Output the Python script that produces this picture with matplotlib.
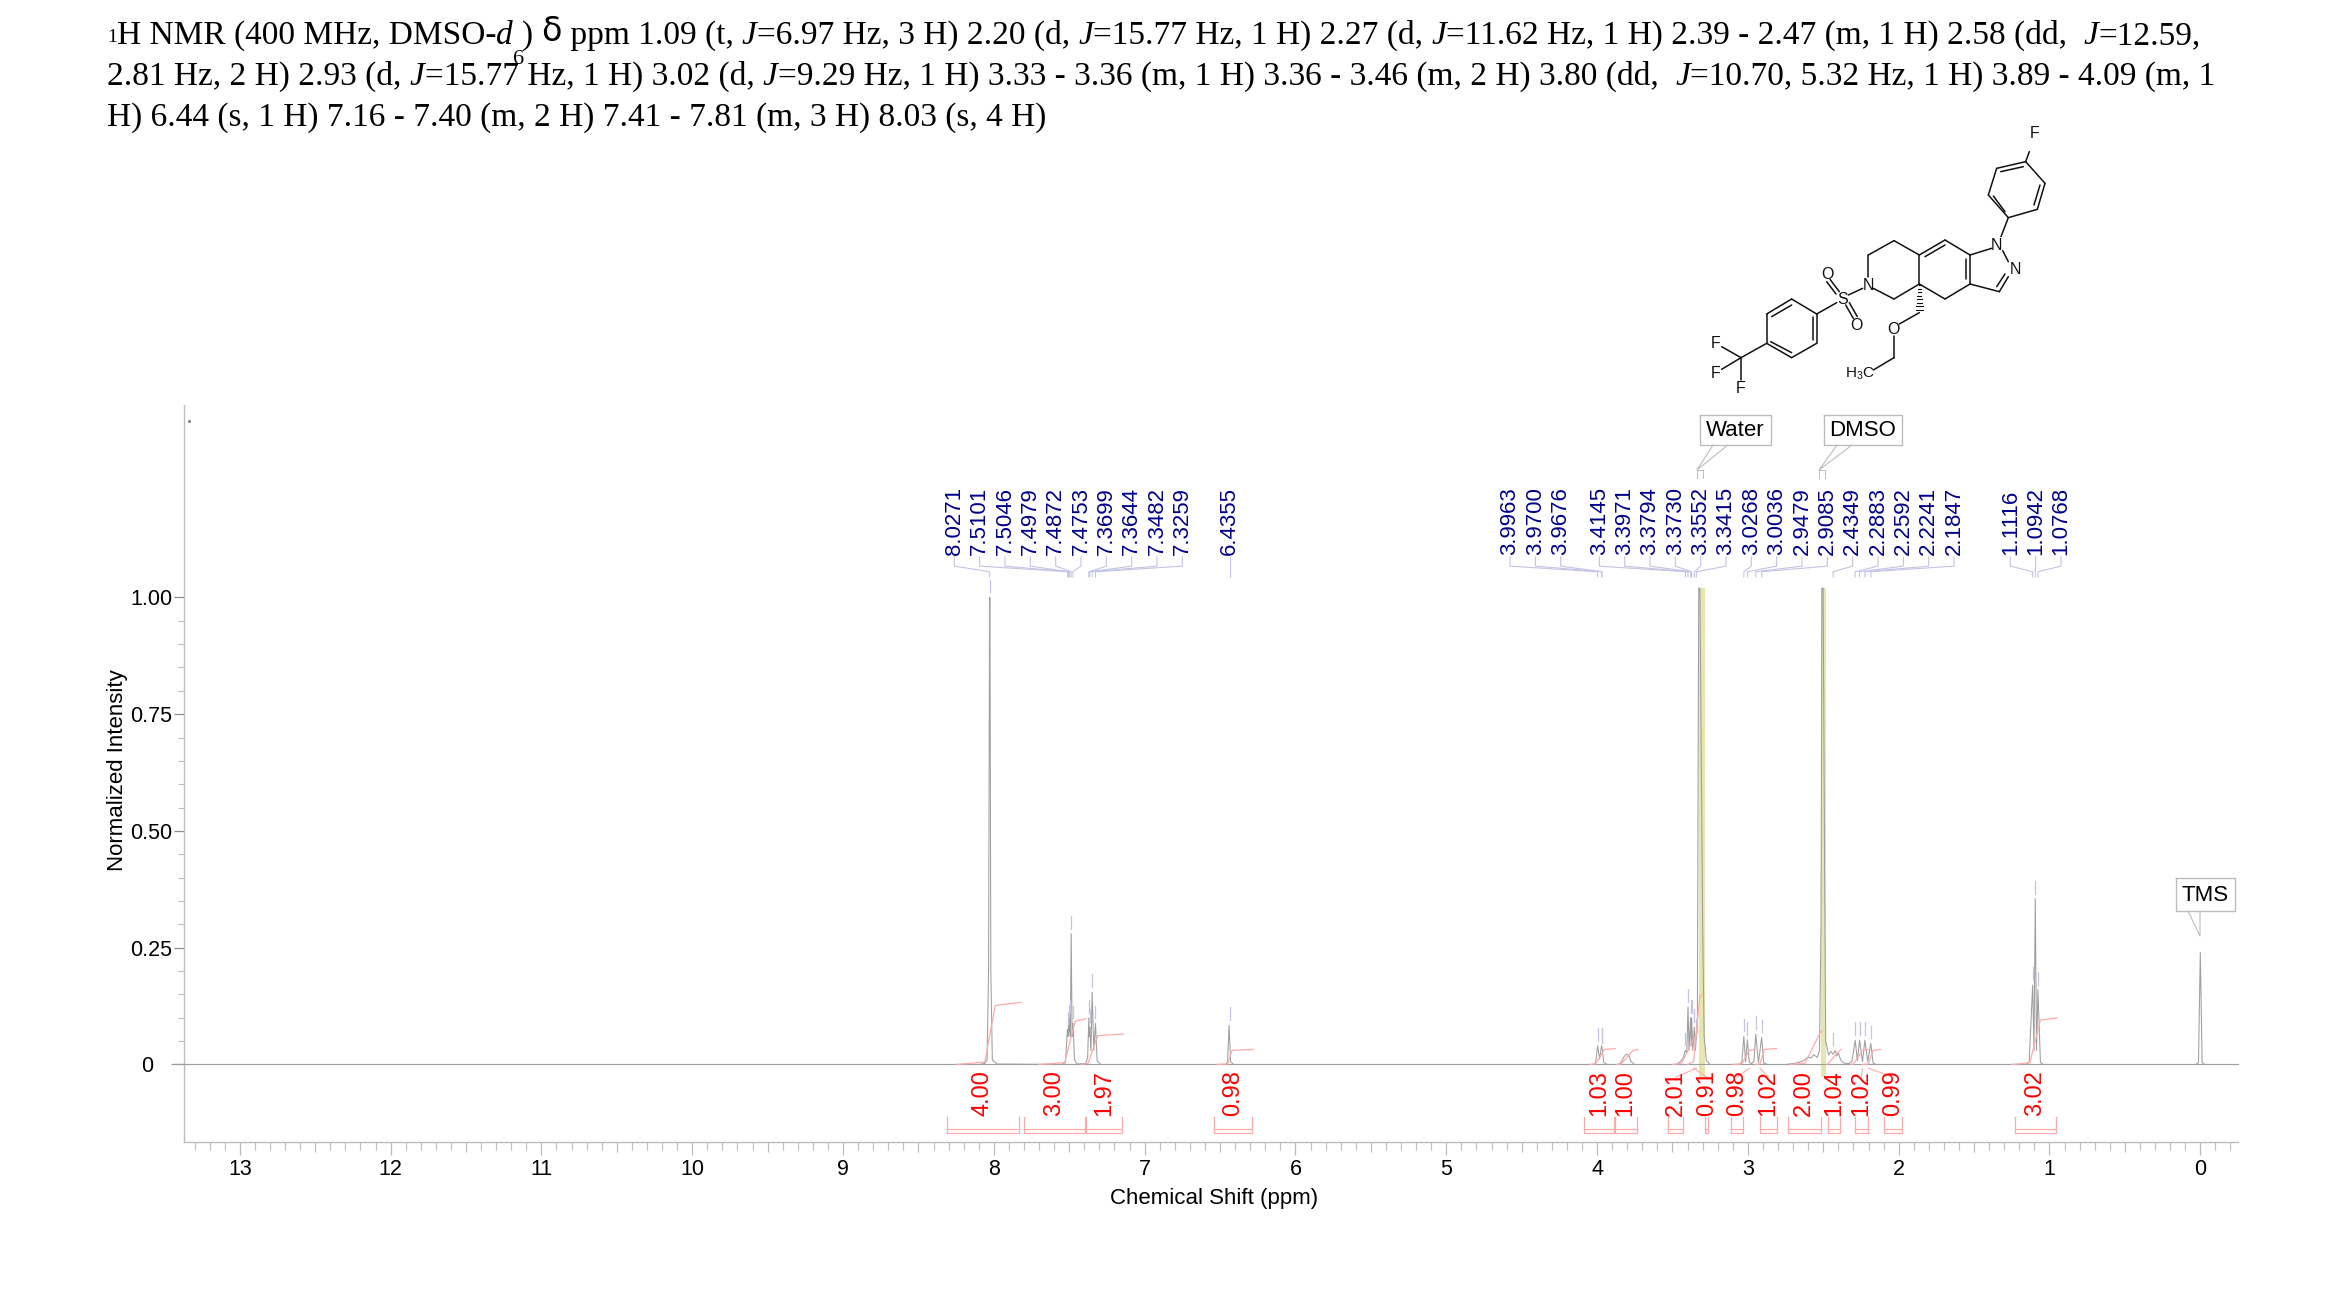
import matplotlib as mpl
mpl.use('Agg')
import matplotlib.pyplot as plt
import numpy as np

SANS = 'Liberation Sans'
SERIF = 'Liberation Serif'
GREY = '#9e9e9e'
AXIS = '#bdbdbd'
NAVY = '#00008b'
PICK = '#c4c4e4'
RED = '#ff0000'
PINK = '#ffaaaa'
BAND = '#e6e6ae'

# spectrum trace (ppm, normalized intensity)
trace_ppm = [13.45, 8.10, 8.06, 8.045, 8.035, 8.028, 8.026, 8.02, 8.01, 7.98,
             7.55, 7.525, 7.512, 7.508, 7.505, 7.502, 7.498, 7.493, 7.487, 7.481, 7.475, 7.465, 7.45,
             7.39, 7.378, 7.37, 7.3665, 7.364, 7.356, 7.348, 7.337, 7.326, 7.315, 7.29,
             6.46, 6.45, 6.44, 6.43, 6.41,
             4.03, 4.01, 3.996, 3.983, 3.97, 3.967, 3.955, 3.93, 3.86, 3.84, 3.82, 3.805, 3.79, 3.775, 3.75,
             3.47, 3.45, 3.43, 3.4145, 3.405, 3.397, 3.39, 3.38, 3.376, 3.373, 3.365, 3.355, 3.348, 3.3415,
             3.335, 3.326, 3.318, 3.30, 3.29, 3.275, 3.25,
             3.06, 3.04, 3.0268, 3.015, 3.0036, 2.99, 2.975, 2.96, 2.9479, 2.93, 2.9085, 2.895, 2.87,
             2.75, 2.68, 2.63, 2.60, 2.58, 2.563, 2.54, 2.525, 2.515, 2.509, 2.501, 2.49, 2.484, 2.465,
             2.45, 2.435, 2.42, 2.41, 2.40, 2.385, 2.365, 2.33, 2.31, 2.2883, 2.274, 2.2592, 2.24,
             2.2241, 2.205, 2.1847, 2.17, 2.15,
             1.16, 1.135, 1.1116, 1.103, 1.0942, 1.086, 1.0768, 1.06, 1.04,
             0.03, 0.012, 0.0, -0.012, -0.03, -0.25]
trace_int = [0, 0, 0.002, 0.01, 0.2, 1.0, 1.0, 0.2, 0.01, 0.001,
             0, 0.004, 0.075, 0.06, 0.09, 0.07, 0.10, 0.06, 0.28, 0.06, 0.088, 0.01, 0.001,
             0.002, 0.015, 0.10, 0.06, 0.08, 0.03, 0.155, 0.03, 0.088, 0.008, 0,
             0, 0.006, 0.084, 0.006, 0,
             0, 0.003, 0.04, 0.012, 0.04, 0.036, 0.004, 0, 0, 0.005, 0.017, 0.022, 0.02, 0.006, 0,
             0, 0.006, 0.013, 0.03, 0.025, 0.123, 0.03, 0.10, 0.04, 0.10, 0.03, 0.08, 0.03, 0.06,
             0.08, 1.02, 1.02, 0.3, 0.06, 0.008, 0,
             0, 0.004, 0.06, 0.005, 0.053, 0.004, 0.002, 0.006, 0.065, 0.004, 0.058, 0.003, 0,
             0, 0.003, 0.008, 0.016, 0.014, 0.021, 0.015, 0.03, 0.3, 1.02, 1.02, 0.35, 0.05, 0.02,
             0.028, 0.022, 0.03, 0.018, 0.025, 0.01, 0.003, 0.002, 0.006, 0.052, 0.008, 0.052, 0.006,
             0.052, 0.006, 0.045, 0.003, 0,
             0, 0.004, 0.17, 0.03, 0.355, 0.03, 0.16, 0.004, 0,
             0, 0.004, 0.24, 0.004, 0, 0]

# peak picks
peak_labels = ['8.0271', '7.5101', '7.5046', '7.4979', '7.4872', '7.4753', '7.3699', '7.3644', '7.3482', '7.3259',
               '6.4355',
               '3.9963', '3.9700', '3.9676',
               '3.4145', '3.3971', '3.3794', '3.3730', '3.3552', '3.3415', '3.0268', '3.0036', '2.9479', '2.9085',
               '2.4349', '2.2883', '2.2592', '2.2241', '2.1847',
               '1.1116', '1.0942', '1.0768']
peak_heights = [1.0, 0.075, 0.09, 0.10, 0.28, 0.088, 0.10, 0.08, 0.155, 0.088,
                0.084,
                0.04, 0.04, 0.036,
                0.03, 0.123, 0.10, 0.10, 0.08, 0.06, 0.06, 0.053, 0.065, 0.058,
                0.03, 0.052, 0.052, 0.052, 0.045,
                0.17, 0.355, 0.16]
# where each run of labels starts, in ppm, and how many labels it holds
label_runs = [(8.262, 10), (6.4355, 1), (4.577, 3), (3.985, 15), (1.26, 3)]

# integrals
integral_labels = ['4.00', '3.00', '1.97', '0.98', '1.03', '1.00', '2.01', '0.91',
                   '0.98', '1.02', '2.00', '1.04', '1.02', '0.99', '3.02']
integral_left = [8.312, 7.80, 7.389, 6.54, 4.084, 3.884, 3.528, 3.284,
                 3.112, 2.92, 2.736, 2.469, 2.292, 2.10, 1.227]
integral_right = [7.832, 7.398, 7.148, 6.285, 3.886, 3.738, 3.427, 3.262,
                  3.031, 2.806, 2.515, 2.392, 2.204, 1.98, 0.96]
integral_tops = [0.133, 0.098, 0.065, 0.032, 0.034, 0.032, 0.07, 0.15,
                 0.032, 0.034, 0.072, 0.032, 0.032, 0.032, 0.10]
curve_left = [8.25, 7.70, 7.42, 6.52, 4.05, 3.87, 3.50, 3.40,
              3.10, 2.95, 2.72, 2.48, 2.32, 2.24, 1.25]
curve_start = [8.06, 7.53, 7.375, 6.45, 4.01, 3.84, 3.44, 3.36, 3.04, 2.92, 2.62, 2.47, 2.30, 2.20, 1.13]
curve_end = [7.99, 7.46, 7.31, 6.42, 3.95, 3.76, 3.34, 3.32, 2.99, 2.89, 2.52, 2.39, 2.24, 2.17, 1.06]
curve_right = [7.82, 7.39, 7.14, 6.28, 3.88, 3.73, 3.33, 3.31, 2.95, 2.81, 2.51, 2.38, 2.20, 2.12, 0.95]

solvent_bands = [(3.326, 3.287), (2.512, 2.484)]

x_major = list(range(0, 14))
y_major = [0, 0.25, 0.5, 0.75, 1.0]
y_labels = ['0   ', '0.25', '0.50', '0.75', '1.00']

title_lines = [
    [('1', 'sup'), ('H NMR (400 MHz, DMSO-', 'r'), ('d', 'i'), (' ', 'r'), ('6', 'sub'), (') ', 'r'), ('δ', 'delta'),
     (' ppm 1.09 (t, ', 'r'), ('J', 'i'), ('=6.97 Hz, 3 H) 2.20 (d, ', 'r'), ('J', 'i'),
     ('=15.77 Hz, 1 H) 2.27 (d, ', 'r'), ('J', 'i'),
     ('=11.62 Hz, 1 H) 2.39 - 2.47 (m, 1 H) 2.58 (dd,  ', 'r'), ('J', 'i'), ('=12.59,', 'r')],
    [('2.81 Hz, 2 H) 2.93 (d, ', 'r'), ('J', 'i'), ('=15.77 Hz, 1 H) 3.02 (d, ', 'r'), ('J', 'i'),
     ('=9.29 Hz, 1 H) 3.33 - 3.36 (m, 1 H) 3.36 - 3.46 (m, 2 H) 3.80 (dd,  ', 'r'), ('J', 'i'),
     ('=10.70, 5.32 Hz, 1 H) 3.89 - 4.09 (m, 1', 'r')],
    [('H) 6.44 (s, 1 H) 7.16 - 7.40 (m, 2 H) 7.41 - 7.81 (m, 3 H) 8.03 (s, 4 H)', 'r')],
]


def draw_title(bg, fig):
    renderer = fig.canvas.get_renderer()
    styles = {'r': dict(size=24, family=SERIF), 'i': dict(size=24, family=SERIF, style='italic'),
              'sup': dict(size=14, family=SERIF), 'sub': dict(size=16, family=SERIF),
              'delta': dict(size=24, family='DejaVu Sans')}
    shifts = {'r': 0, 'i': 0, 'sup': -2, 'sub': 20, 'delta': -3}
    nudge = {'sub': -8}
    for line, base in zip(title_lines, [44, 85, 126]):
        x = 107
        for chunk, kind in line:
            bg.text(x + nudge.get(kind, 0), base + shifts[kind], chunk, va='baseline', ha='left', color='black',
                    **styles[kind])
            probe = bg.text(0, 0, chunk + '|', **styles[kind])
            bar = bg.text(0, 0, '|', **styles[kind])
            w = probe.get_window_extent(renderer).width - bar.get_window_extent(renderer).width
            probe.remove()
            bar.remove()
            if kind == 'sub':
                w = 0
            x += w


def draw_molecule(bg):
    # zoomed picture units, 3 to a pixel, from the corner of the structure
    def z(a, b):
        return 1680 + a / 3, 120 + b / 3
    bonds = [((1048, 95), (1037, 125)), ((1037, 125), (1095, 190)), ((1095, 190), (1072, 268)),
             ((1072, 268), (985, 293)), ((985, 293), (925, 225)), ((925, 225), (950, 145)),
             ((950, 145), (1037, 125)), ((1030, 140), (962, 155)), ((1080, 195), (1062, 255)),
             ((975, 275), (940, 228)), ((985, 293), (963, 350)), ((968, 392), (985, 425)),
             ((985, 470), (958, 515)), ((975, 462), (950, 500)), ((958, 515), (870, 492)),
             ((870, 492), (870, 405)), ((858, 478), (858, 418)), ((870, 405), (935, 385)),
             ((870, 405), (795, 360)), ((795, 360), (718, 405)), ((795, 375), (735, 410)),
             ((718, 405), (718, 492)), ((718, 492), (795, 537)), ((795, 537), (870, 492)),
             ((718, 405), (642, 362)), ((642, 362), (565, 405)), ((565, 405), (565, 470)),
             ((580, 505), (642, 537)), ((642, 537), (718, 492)), ((548, 505), (505, 525)),
             ((478, 515), (450, 478)), ((468, 522), (440, 485)), ((497, 555), (520, 595)),
             ((508, 548), (532, 590)), ((470, 548), (410, 582)), ((410, 582), (335, 537)),
             ((335, 537), (260, 582)), ((260, 582), (260, 670)), ((260, 670), (335, 713)),
             ((335, 713), (410, 670)), ((410, 670), (410, 582)), ((335, 555), (275, 590)),
             ((272, 665), (335, 698)), ((398, 660), (398, 590)), ((260, 670), (183, 713)),
             ((125, 680), (183, 713)), ((125, 748), (183, 713)), ((183, 713), (183, 780)),
             ((718, 578), (658, 612)), ((642, 648), (642, 713)), ((642, 713), (580, 750))]
    for a, b in bonds:
        xa, ya = z(*a)
        xb, yb = z(*b)
        bg.plot([xa, xb], [ya, yb], color='#111111', lw=1.1, solid_capstyle='round')
    for frac in np.arange(0.05, 1.0, 0.12):
        half = 2 + 10 * frac
        xa, ya = z(718 - half, 492 + 86 * frac)
        xb, yb = z(718 + half, 492 + 86 * frac)
        bg.plot([xa, xb], [ya, yb], color='#111111', lw=0.8)
    atoms = [('F', 1065, 40), ('N', 950, 378), ('N', 1005, 450), ('N', 565, 495), ('S', 487, 537),
             ('O', 443, 463), ('O', 530, 615), ('O', 640, 630), ('F', 107, 672), ('F', 107, 760), ('F', 183, 805)]
    for name, a, b in atoms:
        xa, ya = z(a, b)
        bg.text(xa, ya, name, ha='center', va='center', fontsize=11.5, family=SANS, color='#111111')
    xa, ya = z(540, 760)
    bg.text(xa, ya, 'H$_3$C', ha='center', va='center', fontsize=11, family=SANS, color='#111111')


def draw_callouts(bg):
    boxes = [('Water', 1700, 1771, 1697), ('DMSO', 1824, 1902, 1819), ('TMS', 2176, 2235, 2200)]
    for name, left, right, tip in boxes:
        top, bottom = (878, 911) if name == 'TMS' else (415, 445)
        tip_y = 936 if name == 'TMS' else 470
        bg.plot([left, right, right, left, left], [top, top, bottom, bottom, top], color=AXIS, lw=1.0)
        bg.text((left + right) / 2, (top + bottom) / 2 + 1, name, ha='center', va='center',
                fontsize=16, family=SANS, color='black')
        if name == 'TMS':
            bg.plot([2188, tip, 2200], [bottom, tip_y, bottom], color=AXIS, lw=0.8)
        else:
            bg.plot([left + 13, tip, left + 28], [bottom, tip_y, bottom], color=AXIS, lw=0.8)
            bg.plot([tip, tip, tip + 6, tip + 6], [478, tip_y, tip_y, 478], color=AXIS, lw=0.7)


plt.rcParams['font.family'] = [SANS, 'DejaVu Sans']
plt.rcParams['mathtext.fontset'] = 'custom'
plt.rcParams['mathtext.rm'] = SANS
plt.rcParams['mathtext.default'] = 'regular'

fig = plt.figure(figsize=(23.39, 13.07), dpi=100, facecolor='white')
ax = fig.add_axes([184 / 2339, 1 - 1142 / 1307, (2238 - 184) / 2339, (1142 - 405) / 1307])
ax.set_xlim(13.37, -0.25)
ax.set_ylim(-0.166, 1.412)
ax.patch.set_alpha(0)

for side in ['top', 'right']:
    ax.spines[side].set_visible(False)
for side in ['left', 'bottom']:
    ax.spines[side].set_color(AXIS)
    ax.spines[side].set_linewidth(1.0)

ax.set_xticks(x_major)
ax.set_xticks([v / 10 for v in range(-2, 134)], minor=True)
ax.set_yticks(y_major)
ax.set_yticklabels(y_labels)
ax.set_yticks([v / 20 for v in range(0, 21)], minor=True)
ax.tick_params(axis='x', which='major', length=9.1, width=0.9, color=AXIS, labelsize=15.5, pad=3)
ax.tick_params(axis='x', which='minor', length=5.8, width=0.8, color=AXIS)
ax.tick_params(axis='y', which='major', length=7.5, width=0.9, color='#8c8c8c', labelsize=15.5, pad=1)
ax.tick_params(axis='y', which='minor', length=4.3, width=0.8, color=AXIS)
ax.vlines([v + 0.5 for v in range(0, 13)], -0.166, -0.166 - 10 / 467, color=AXIS, lw=0.8, clip_on=False)

ax.set_xlabel('Chemical Shift (ppm)', fontsize=16)
ax.xaxis.set_label_coords((1214 - 184) / (2238 - 184), -0.0625)
ax.set_ylabel('Normalized Intensity', fontsize=16)
ax.yaxis.set_label_coords((128 - 184) / (2238 - 184), (1142 - 770) / (1142 - 405))

for left, right in solvent_bands:
    ax.fill_between([left, right], -0.027, 1.02, color=BAND, lw=0, zorder=1)

ax.plot([13.45, -0.25], [0, 0], color=GREY, lw=0.8, clip_on=False, zorder=2)
ax.plot(trace_ppm, trace_int, color=GREY, lw=0.75, clip_on=False, zorder=3)
ax.plot([13.34], [1.378], marker='s', ms=1.0, color='#777777', zorder=3)

# peak labels with their leaders
peak_ppm = [float(s) for s in peak_labels]
n = 0
for start, count in label_runs:
    for i in range(count):
        label_x = start - i * 0.168
        ppm = peak_ppm[n]
        h = peak_heights[n]
        ax.text(label_x, 1.09, peak_labels[n], rotation=90, ha='center', va='bottom', fontsize=16, color=NAVY)
        ax.plot([label_x, label_x, ppm, ppm], [1.087, 1.067, 1.055, 1.044], color=PICK, lw=0.8, clip_on=False)
        ax.plot([ppm, ppm], [h + 0.011, h + 0.038], color=PICK, lw=0.9, zorder=4)
        n += 1

# integrals
for i, name in enumerate(integral_labels):
    left, right = integral_left[i], integral_right[i]
    top = integral_tops[i]
    mid = (left + right) / 2
    ax.plot([left, left, right, right], [-0.112, -0.147, -0.147, -0.112], color=PINK, lw=0.9)
    ax.plot([left, right], [-0.139, -0.139], color=PINK, lw=0.9)
    ax.text(mid, -0.110, name, rotation=90, ha='center', va='bottom', fontsize=17, color=RED)
    ax.plot([curve_left[i], curve_start[i], (curve_start[i] + curve_end[i]) / 2, curve_end[i], curve_right[i]],
            [0, top * 0.04, top * 0.5, top * 0.95, top], color=PINK, lw=0.9, zorder=5)
    if i in (6, 7, 8, 9, 12, 13):
        ax.plot([mid, curve_end[i] if i % 2 == 0 else curve_start[i]], [-0.027, -0.008], color=PINK, lw=0.8)

bg = fig.add_axes([0, 0, 1, 1], zorder=-1)
bg.set_xlim(0, 2339)
bg.set_ylim(1307, 0)
bg.axis('off')
fig.canvas.draw()
draw_title(bg, fig)
draw_molecule(bg)
draw_callouts(bg)
bg.set_xlim(0, 2339)
bg.set_ylim(1307, 0)

fig.savefig('out.png', dpi=100)
